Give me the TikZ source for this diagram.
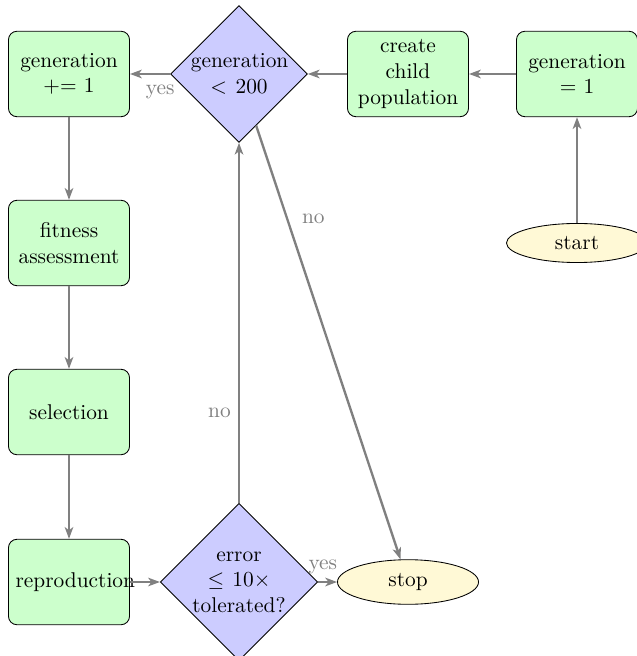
\documentclass[tikz,border=0pt]{standalone}
\usetikzlibrary{shapes.geometric,arrows.meta}
\definecolor{cream}{RGB}{255,249,214}
\begin{document}
\begin{tikzpicture}[x=0.468pt,y=-0.468pt,
  block/.style={rectangle, draw, fill=green!20, text width=5em, align=center,
    rounded corners, minimum height=4em},
  decision/.style={diamond, draw, fill=blue!20, text width=4.5em, align=center,
    inner sep=0pt},
  terminal/.style={ellipse, draw, fill=cream, minimum width=66pt},
  flow/.style={draw=gray, line width=1.1pt,
    -{Stealth[length=5.5pt,width=4pt,inset=1.5pt]}},
  lbl/.style={text=gray}]
\useasboundingbox (0,0) rectangle (637,656);

% nodes of the flow chart
\node[block] (inc) at (69,74) {generation\\+= 1};
\node[decision] (test) at (239,74) {generation\\$<200$};
\node[block] (child) at (408,74) {create\\child\\population};
\node[block] (init) at (577,74) {generation\\= 1};
\node[terminal] (start) at (577,243) {start};
\node[block] (fit) at (69,243) {fitness\\assessment};
\node[block] (sel) at (69,412) {selection};
\node[block] (rep) at (69,582) {reproduction};
\node[decision] (err) at (239,582) {error\\$\leq 10\times$\\tolerated?};
\node[terminal] (stop) at (408,582) {stop};

% connectors
\path[flow] (start) -- (init);
\path[flow] (init) -- (child);
\path[flow] (child) -- (test);
\path[flow] (test) -- node[lbl, pos=0.25, below, yshift=-1pt] {yes} (inc);
\path[flow] (inc) -- (fit);
\path[flow] (fit) -- (sel);
\path[flow] (sel) -- (rep);
\path[flow] (rep) -- (err);
\path[flow] (err) -- node[lbl, pos=0.25, above] {yes} (stop);
\path[flow] (err) -- node[lbl, near start, left] {no} (test);
\path[flow] (test) -- node[lbl, pos=0.216, right, xshift=3pt] {no} (stop);
\end{tikzpicture}
\end{document}
